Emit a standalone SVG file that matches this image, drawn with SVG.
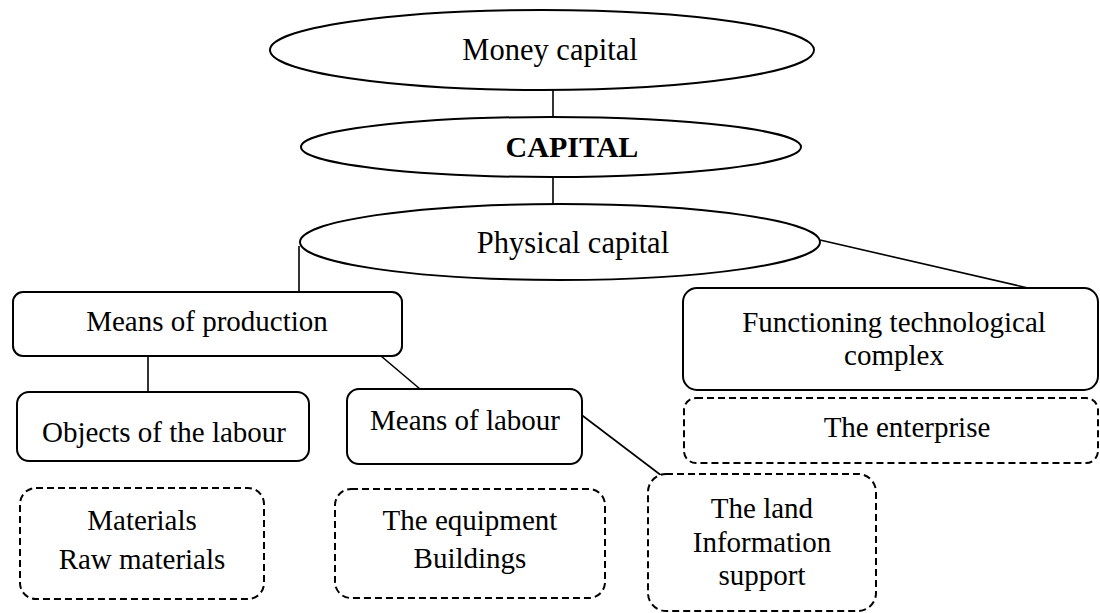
<svg xmlns="http://www.w3.org/2000/svg" width="1100" height="613" viewBox="0 0 1100 613">
<style>
.shape{fill:#fff;stroke:#000;stroke-width:2}
.dash{fill:#fff;stroke:#000;stroke-width:2;stroke-dasharray:7 4}
.conn line{stroke:#000;stroke-width:1.6}
text{font-family:"Liberation Serif","Times New Roman",serif;font-size:29px;fill:#000;text-anchor:middle}
.big{font-size:30.5px}
.bold{font-weight:bold;font-size:30px}
</style>
<rect width="1100" height="613" fill="#fff"/>
<g id="connectors" class="conn">
<line x1="553" y1="90" x2="553" y2="117"/>
<line x1="553" y1="177" x2="553" y2="204"/>
<line x1="299" y1="246" x2="299" y2="292"/>
<line x1="820" y1="240" x2="1028" y2="288"/>
<line x1="148" y1="356" x2="148" y2="392"/>
<line x1="381" y1="356" x2="420" y2="389"/>
<line x1="579" y1="413" x2="662" y2="476"/>
</g>
<g id="money">
<ellipse class="shape" cx="542" cy="50" rx="272" ry="40"/>
<text class="big" x="550" y="60">Money capital</text>
</g>
<g id="capital">
<ellipse class="shape" cx="551" cy="147" rx="250" ry="30"/>
<text class="bold" x="572" y="157">CAPITAL</text>
</g>
<g id="physical">
<ellipse class="shape" cx="560" cy="242" rx="260" ry="38"/>
<text class="big" x="573" y="253">Physical capital</text>
</g>
<g id="means-production">
<rect class="shape" x="13" y="292" width="389" height="64" rx="10"/>
<text x="207" y="331">Means of production</text>
</g>
<g id="functioning">
<rect class="shape" x="683" y="288" width="415" height="102" rx="14"/>
<text x="894" y="332">Functioning technological</text>
<text x="894" y="365">complex</text>
</g>
<g id="enterprise">
<rect class="dash" x="684" y="398" width="414" height="65" rx="12"/>
<text x="907" y="437">The enterprise</text>
</g>
<g id="objects">
<rect class="shape" x="17" y="392" width="292" height="69" rx="12"/>
<text x="164" y="442">Objects of the labour</text>
</g>
<g id="means-labour">
<rect class="shape" x="347" y="389" width="235" height="75" rx="12"/>
<text x="465" y="430">Means of labour</text>
</g>
<g id="materials">
<rect class="dash" x="20" y="488" width="244" height="111" rx="16"/>
<text x="142" y="530">Materials</text>
<text x="142" y="569">Raw materials</text>
</g>
<g id="equipment">
<rect class="dash" x="335" y="489" width="270" height="109" rx="16"/>
<text x="470" y="530">The equipment</text>
<text x="470" y="568">Buildings</text>
</g>
<g id="land">
<rect class="dash" x="648" y="474" width="228" height="137" rx="18"/>
<text x="762" y="518">The land</text>
<text x="762" y="552">Information</text>
<text x="762" y="585">support</text>
</g>
</svg>
